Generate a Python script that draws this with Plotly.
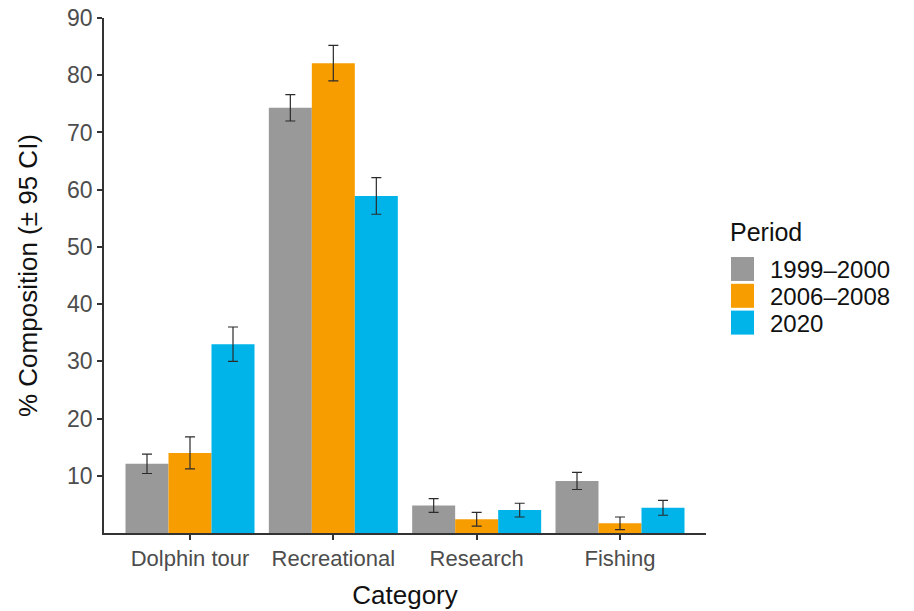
import plotly.graph_objects as go

# Vessel-type composition by survey period, with 95% CI half-widths
categories = ["Dolphin tour", "Recreational", "Research", "Fishing"]
periods = ["1999–2000", "2006–2008", "2020"]
colors = ["#999999", "#f89d00", "#00b4ea"]

pct_1999 = [12.1, 74.3, 4.8, 9.1]
pct_2006 = [14.0, 82.1, 2.4, 1.7]
pct_2020 = [33.0, 58.9, 4.0, 4.4]
ci_1999 = [1.7, 2.3, 1.2, 1.5]
ci_2006 = [2.8, 3.1, 1.2, 1.1]
ci_2020 = [3.0, 3.2, 1.2, 1.3]

values = [pct_1999, pct_2006, pct_2020]
cis = [ci_1999, ci_2006, ci_2020]

y_ticks = [10, 20, 30, 40, 50, 60, 70, 80, 90]

FONT = "Liberation Sans, Arial, Helvetica, sans-serif"

fig = go.Figure()
for name, col, vals, ci in zip(periods, colors, values, cis):
    fig.add_trace(go.Bar(
        x=categories, y=vals, name=name,
        marker=dict(color=col, line=dict(width=0)),
        error_y=dict(type="data", array=ci, visible=True,
                     color="#2b2b2b", thickness=1.2, width=5),
        showlegend=False,
    ))

# Legend drawn as swatches + labels on the right side
L, R, T, B = 104, 208, 18, 78
W, H = 914 - L - R, 611 - T - B
def px(xp):
    return (xp - L) / W
def py(yp):
    return (611 - B - yp) / H

annotations = [dict(
    text="Period", xref="paper", yref="paper", x=px(728), y=py(232),
    xanchor="left", yanchor="middle", showarrow=False,
    font=dict(family=FONT, size=25, color="#111111"))]
shapes = []
for i, (name, col) in enumerate(zip(periods, colors)):
    top = 257 + i * 26.8
    shapes.append(dict(type="rect", xref="paper", yref="paper",
                       x0=px(731), x1=px(754), y0=py(top + 24), y1=py(top),
                       fillcolor=col, line=dict(width=0)))
    annotations.append(dict(
        text=name, xref="paper", yref="paper", x=px(768), y=py(top + 12.5),
        xanchor="left", yanchor="middle", showarrow=False,
        font=dict(family=FONT, size=24, color="#111111")))

fig.update_layout(
    width=914, height=611,
    margin=dict(l=L, r=R, t=T, b=B, autoexpand=False),
    paper_bgcolor="white", plot_bgcolor="white",
    barmode="group", bargap=0.1, bargroupgap=0,
    font=dict(family=FONT),
    shapes=shapes, annotations=annotations,
    xaxis=dict(
        range=[-0.6, 3.6], showgrid=False, zeroline=False, automargin=False,
        showline=True, linecolor="#333333", linewidth=1.5,
        ticks="outside", ticklen=5, tickwidth=1.5, tickcolor="#333333",
        tickfont=dict(family=FONT, size=22, color="#4d4d4d"),
        title=dict(text="Category", standoff=16,
                   font=dict(family=FONT, size=26, color="#111111")),
    ),
    yaxis=dict(
        range=[0, 90], showgrid=False, zeroline=False, automargin=False,
        showline=True, linecolor="#333333", linewidth=1.5,
        ticks="outside", ticklen=5, tickwidth=1.5, tickcolor="#333333",
        tickvals=y_ticks, ticktext=[str(v) for v in y_ticks],
        tickfont=dict(family=FONT, size=23, color="#4d4d4d"),
        title=dict(text="% Composition (± 95 CI)", standoff=22,
                   font=dict(family=FONT, size=26, color="#111111")),
    ),
)

fig.write_html("out.html")
